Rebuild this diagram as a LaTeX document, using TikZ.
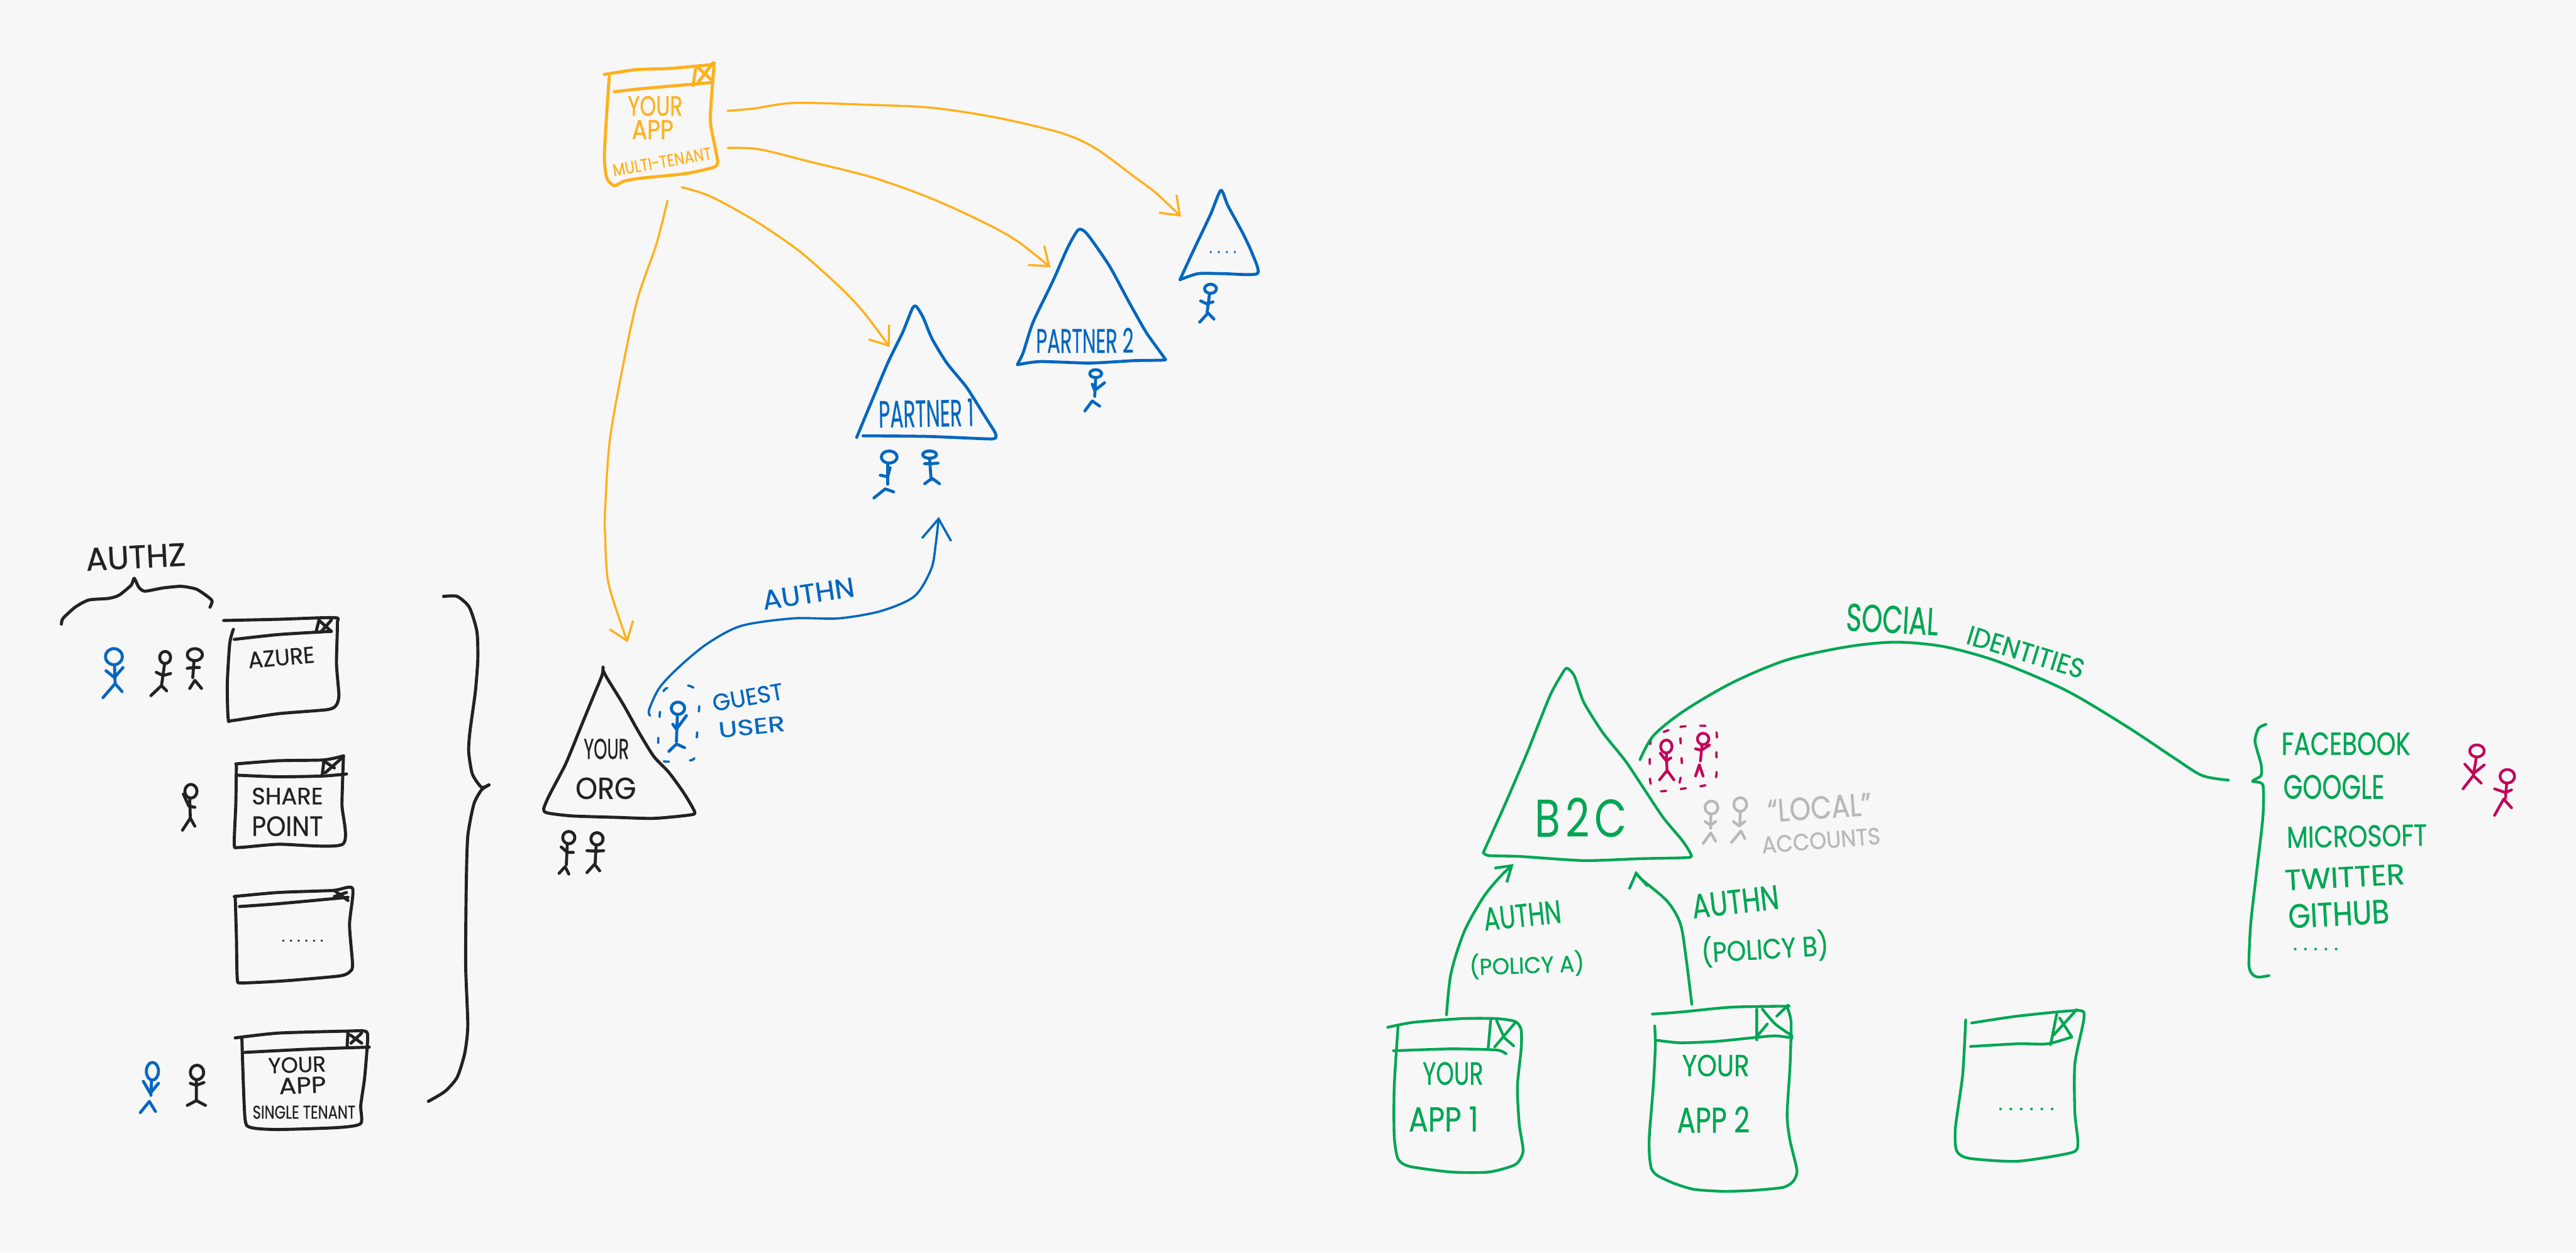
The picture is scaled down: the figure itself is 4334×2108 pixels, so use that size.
\documentclass[tikz,border=0pt]{standalone}
\usepackage{graphicx}
\usepackage{fontspec}
\setmainfont{Poppins}[FakeBold=0.7]
\newfontfamily\plainfont{Poppins}
\usetikzlibrary{arrows.meta}
\definecolor{bgc}{RGB}{247,247,247}
\definecolor{ink}{RGB}{34,34,34}
\definecolor{bluec}{RGB}{2,103,192}
\definecolor{orangec}{RGB}{255,176,28}
\definecolor{greenc}{RGB}{0,166,84}
\definecolor{magc}{RGB}{194,0,88}
\definecolor{grayc}{RGB}{184,184,184}
\newlength\pxu \setlength\pxu{0.01cm}
\newcommand\tx[3]{\resizebox{#1\pxu}{#2\pxu}{#3}}
\newcommand\dw[2]{\resizebox{#1\pxu}{!}{#2}}
\newcommand\dd{.\kern.3em}
\newcommand\hand[2]{\draw[#1] plot[smooth,tension=.4] coordinates {#2};}
\tikzset{
  pen/.style={line cap=round,line join=round,line width=#1*0.01cm},
  kfig/.style={pen=5,draw=ink},
  bfig/.style={pen=5,draw=bluec},
  mfig/.style={pen=4.6,draw=magc},
  gfig/.style={pen=4.6,draw=grayc},
  kbox/.style={pen=5.2,draw=ink},
  bbox/.style={pen=5,draw=bluec},
  obox/.style={pen=5.2,draw=orangec},
  gbox/.style={pen=4.6,draw=greenc},
  oconn/.style={pen=3.6,draw=orangec,-{Straight Barb[length=8pt,width=12pt]}},
  lab/.style={inner sep=0pt,text=#1},
}
\begin{document}
\begin{tikzpicture}[x=0.01cm,y=-0.01cm]
\useasboundingbox (0,0) rectangle (4334,2108);
\fill[bgc] (0,0) rectangle (4334,2108);

%% left column: zoom 1 frame
\begin{scope}[shift={(60,880)},xscale=1/1.96,yscale=1/1.479]
\hand{kbox}{(85,252) (90,238) (130,210) (175,192) (240,188) (275,180) (315,155) (325,138) (340,160) (360,170) (420,162) (480,158) (530,165) (570,185) (582,195) (575,210)}
\node[lab=ink,rotate=3] (authz) at (330,85) {\tx{168}{38}{AUTHZ}};
% Azure
\hand{kbox}{(620,243) (800,240) (985,236) (995,250) (992,350) (1000,430) (990,455) (960,465) (800,475) (650,492) (635,488) (632,400) (640,300) (652,265)}
\hand{kbox}{(655,290) (800,278) (975,270)}
\draw[kbox] (925,270)--(935,240) (938,245)--(975,270) (975,242)--(940,272);
\node[lab=ink,rotate=5] (azure) at (810,335) {\tx{112}{27}{AZURE}};
\draw[bfig] (258,333) ellipse (28 and 20) (260,355)--(262,400) (232,368)--(260,385)--(288,360) (222,435)--(262,400)--(285,420);
\draw[kfig] (427,335) ellipse (18 and 15) (425,352)--(415,405) (398,372)--(420,380)--(445,375) (380,430)--(415,405)--(432,418);
\draw[kfig] (525,328) ellipse (25 and 15) (522,345)--(518,385) (500,362)--(520,360)--(540,360) (508,412)--(525,392)--(547,412);
% SharePoint
\hand{kbox}{(660,600) (800,592) (950,590) (1015,580)}
\hand{kbox}{(1015,580) (1010,700) (1012,800) (800,800) (670,808) (655,800) (660,700) (662,600)}
\hand{kbox}{(665,628) (800,632) (950,630) (1025,625)}
\draw[kbox] (945,628)--(950,595) (955,622)--(1010,585) (955,595)--(985,610);
\node[lab=ink] (share) at (830,680) {\tx{120}{28}{SHARE}};
\node[lab=ink] (point) at (830,755) {\tx{120}{33}{POINT}};
\draw[kfig] (512,668) ellipse (20 and 17) (508,687)--(510,735) (487,675)--(505,705)--(525,708) (484,765)--(510,735)--(525,755);
% third
\hand{kbox}{(655,930) (800,920) (980,915) (1045,910) (1035,1000) (1045,1100) (1035,1118) (1000,1128) (820,1140) (680,1145) (665,1135) (662,1030) (658,930)}
\hand{kbox}{(672,955) (800,948) (1030,932)}
\draw[kbox] (985,915)--(1030,940) (985,930)--(1025,920);
\node[lab=ink] (dots1) at (880,1040) {\dw{70}{\dd\dd\dd\dd\dd.}};
% your app single
\hand{kbox}{(658,1282) (800,1270) (1030,1265) (1085,1265) (1095,1280) (1085,1380) (1072,1450) (1072,1495) (1000,1505) (800,1510) (710,1505) (690,1480) (680,1282)}
\hand{kbox}{(690,1318) (900,1310) (1100,1305)}
\draw[kbox] (1027,1305)--(1030,1265) (1038,1275)--(1075,1295) (1075,1270)--(1040,1295);
\node[lab=ink,rotate=2] (yourS) at (862,1349) {\tx{97}{26}{YOUR}};
\node[lab=ink,rotate=2] (appS) at (880,1400) {\tx{79}{27}{APP}};
\node[lab=ink] (singleT) at (885,1467) {\tx{173}{22}{SINGLE TENANT}};
\draw[bfig] (385,1365) ellipse (20 and 22) (382,1388)--(380,1425) (355,1390)--(378,1420)--(405,1395) (345,1468)--(375,1440)--(395,1465);
\draw[kfig] (532,1368) ellipse (22 and 18) (530,1388)--(530,1438) (510,1395)--(530,1400)--(555,1393) (500,1450)--(530,1438)--(560,1450);
% big brace
\hand{kbox}{(1345,183) (1390,183) (1430,210) (1455,270) (1458,340) (1450,420) (1432,520) (1428,570) (1440,625) (1470,658) (1495,652)}
\hand{kbox}{(1495,652) (1470,665) (1445,700) (1425,780) (1420,900) (1418,1100) (1425,1250) (1415,1320) (1390,1380) (1350,1415) (1295,1440)}
\end{scope}

%% top: zoom 2 frame
\begin{scope}[shift={(880,60)},xscale=1/1.206,yscale=1/1.96]
\hand{obox}{(165,128) (230,112) (300,108) (385,95)}
\hand{obox}{(175,135) (170,250) (165,400) (170,470) (185,495) (205,480) (240,470) (330,455) (385,435) (395,420) (390,370) (380,280) (385,150) (388,90)}
\hand{obox}{(185,185) (240,175) (380,155)}
\draw[obox] (345,165)--(350,110) (355,155)--(385,90) (355,105)--(385,150);
\node[lab=orangec] (yourM) at (268,232) {\tx{92}{33}{YOUR}};
\node[lab=orangec] (appM) at (263,310) {\tx{70}{32}{APP}};
\node[lab=orangec,rotate=10] (multiT) at (282,416) {\tx{168}{20}{MULTI-TENANT}};
\coordinate (c1s) at (415,248); \coordinate (c1e) at (1335,597);
\coordinate (c2s) at (415,370); \coordinate (c2e) at (1070,764);
\coordinate (c3s) at (322,500); \coordinate (c3e) at (744,1027);
\draw[oconn] plot[smooth,tension=.5] coordinates {(c1s) (470,240) (550,222) (700,228) (830,238) (960,270) (1090,320) (1160,370) (1240,465) (1285,520) (c1e)};
\draw[oconn] plot[smooth,tension=.5] coordinates {(c2s) (480,375) (580,415) (710,468) (830,538) (940,620) (1005,680) (c2e)};
\draw[oconn] plot[smooth,tension=.5] coordinates {(c3s) (380,530) (470,610) (560,710) (640,825) (690,910) (c3e)};
% partner 1
\hand{bbox}{(677,1325) (700,1235) (740,1080) (770,980) (790,900) (798,893) (812,930) (830,1000) (860,1080) (900,1160) (935,1250) (958,1310) (958,1328) (940,1330) (820,1322) (690,1320)}
\node[lab=bluec,rotate=1] (part1) at (818,1245) {\tx{160}{46}{PARTNER 1}};
\draw[bfig] (743,1390) ellipse (16 and 20) (740,1412)--(740,1480) (725,1450)--(740,1455)--(745,1425) (712,1525)--(735,1495)--(752,1505);
\draw[bfig] (825,1382) ellipse (14 and 12) (825,1395)--(828,1465) (815,1412)--(828,1412)--(842,1410) (815,1478)--(830,1460)--(845,1478);
% partner 2
\hand{bbox}{(1003,1085) (1015,1045) (1035,945) (1075,810) (1105,700) (1127,640) (1145,655) (1190,760) (1230,880) (1265,980) (1300,1060) (1300,1070) (1240,1072) (1150,1080) (1050,1075) (1005,1085)}
\node[lab=bluec] (part2) at (1140,1005) {\tx{164}{42}{PARTNER 2}};
\draw[bfig] (1162,1115) ellipse (12 and 13) (1162,1130)--(1160,1190) (1155,1150)--(1160,1170)--(1180,1145) (1140,1238)--(1155,1205)--(1170,1222);
% third triangle
\hand{bbox}{(1333,805) (1360,710) (1395,590) (1416,510) (1430,560) (1460,650) (1480,720) (1490,785) (1420,785) (1370,785) (1333,805)}
\node[lab=bluec] (dots2) at (1420,714) {\dw{46}{\dd\dd\dd.}};
\draw[bfig] (1395,835) ellipse (12 and 15) (1393,852)--(1388,915) (1375,875)--(1388,885)--(1400,878) (1373,945)--(1390,915)--(1402,935);
\end{scope}

%% your org: zoom 3 frame
\begin{scope}[shift={(860,850)},xscale=1/1.96,yscale=1/2.412]
\hand{kbox}{(303,658) (300,690) (270,780) (230,900) (180,1050) (125,1180) (107,1235) (120,1250) (200,1262) (350,1268) (470,1272) (590,1258) (605,1245) (570,1170) (520,1085) (470,1020) (420,920) (370,810) (315,700) (303,670)}
\node[lab=ink] (yourO) at (314,990) {\tx{76}{34}{YOUR}};
\node[lab=ink] (orgO) at (312,1150) {\tx{102}{36}{ORG}};
\draw[kfig] (190,1350) ellipse (20 and 25) (185,1378)--(182,1460) (165,1388)--(185,1410)--(205,1410) (158,1495)--(178,1468)--(190,1498);
\draw[kfig] (283,1355) ellipse (20 and 25) (280,1385)--(277,1455) (250,1403)--(280,1405)--(305,1403) (250,1492)--(275,1458)--(292,1485);
\draw[bfig] (550,825) ellipse (22 and 25) (548,855)--(545,960) (533,890)--(545,910)--(578,855) (520,1000)--(545,970)--(572,985);
\draw[pen=3.8,draw=bluec,dash pattern=on 2.5pt off 10pt] plot[smooth cycle,tension=.4] coordinates {(510,745) (585,733) (620,770) (615,900) (607,1000) (597,1035) (500,1040) (485,1000) (487,900) (495,790)};
\node[lab=bluec,rotate=8.5] (authnO) at (980,360) {\tx{156}{32}{AUTHN}};
\node[lab=bluec,rotate=10] (guest) at (780,780) {\tx{120}{28}{GUEST}};
\node[lab=bluec,rotate=6] (userG) at (793,900) {\tx{112}{26}{USER}};
\coordinate (orgGuestStart) at (458,855);
\coordinate (authnEnd) at (1410,48);
\draw[pen=3.8,draw=bluec,-{Straight Barb[length=10pt,width=14pt]}] plot[smooth,tension=.5] coordinates {(orgGuestStart) (455,830) (490,740) (560,650) (650,560) (760,490) (930,460) (1080,460) (1220,430) (1330,370) (1385,260) (1400,160) (authnEnd)};
\end{scope}

% orange connector from app to your org (full-size coordinates)
\coordinate (c4s) at (1123,338);
\coordinate (c4e) at (1056,1081);
\draw[oconn] plot[smooth,tension=.5] coordinates {(c4s) (1104,412) (1071,509) (1042,647) (1025,749) (1018,860) (1018,900) (1024,983) (c4e)};

%% B2C: zoom 4 frame
\begin{scope}[shift={(2250,1000)},scale=1/1.568]
\hand{gbox}{(385,682) (440,560) (500,420) (560,270) (590,215) (605,195) (625,215) (650,285) (700,365) (760,440) (810,515) (860,590) (910,650) (932,685) (925,695) (800,698) (650,703) (480,692) (400,690) (385,682)}
\node[lab=greenc] (b2c) at (643,590) {\tx{155}{66}{{\plainfont B\kern.12em2\kern.12emC}}};
% app 1
\hand{gbox}{(133,1143) (200,1130) (330,1120) (420,1120) (470,1128) (485,1150) (485,1200) (475,1300) (480,1400) (490,1470) (470,1505) (400,1525) (300,1525) (190,1510) (160,1490) (150,1430) (150,1300) (160,1143)}
\hand{gbox}{(148,1205) (300,1200) (420,1203) (445,1213)}
\draw[gbox] (398,1197)--(405,1120) (420,1125)--(440,1170)--(465,1192) (470,1130)--(415,1195);
\node[lab=greenc] (your1) at (305,1265) {\tx{102}{38}{YOUR}};
\node[lab=greenc] (app1) at (280,1385) {\tx{117}{42}{APP 1}};
\node[lab=greenc,rotate=6] (authnA) at (488,848) {\tx{131}{38}{AUTHN}};
\node[lab=greenc,rotate=2] (policyA) at (500,978) {\tx{193}{36}{(POLICY A)}};
\node[lab=greenc,rotate=6.5] (authnB) at (1050,812) {\tx{147}{40}{AUTHN}};
\node[lab=greenc,rotate=3.5] (policyB) at (1128,935) {\tx{214}{44}{(POLICY B)}};
\coordinate (a1up) at (288,1110);
\coordinate (tipA) at (465,712);
\coordinate (b2up) at (935,1082);
\coordinate (tipB) at (787,730);
\draw[gbox,-{Straight Barb[length=7pt,width=9pt]}] plot[smooth,tension=.5] coordinates {(a1up) (300,1000) (335,890) (385,800) (430,745) (tipA)};
\draw[gbox,-{Straight Barb[length=7pt,width=9pt]}] plot[smooth,tension=.5] coordinates {(b2up) (920,960) (905,870) (870,810) (800,750) (tipB)};
% magenta & gray people
\draw[pen=3.8,draw=magc,dash pattern=on 2.5pt off 7pt] plot[smooth cycle,tension=.4] coordinates {(835,375) (905,350) (995,352) (1000,420) (995,495) (920,512) (840,520) (825,490) (825,400)};
\draw[pen=3.8,draw=magc,dash pattern=on 2.5pt off 7pt] (905,380)--(910,465)--(900,510);
\draw[mfig] (868,402) ellipse (15 and 17) (868,420)--(870,470) (852,420)--(868,440)--(880,432) (850,490)--(870,465)--(888,490);
\draw[mfig] (965,382) ellipse (15 and 15) (962,398)--(958,440) (945,408)--(960,412)--(982,398) (945,480)--(955,450)--(965,480);
\draw[gfig] (987,563) ellipse (17 and 17) (985,580)--(985,618) (970,600)--(985,610)--(998,600) (965,658)--(985,630)--(998,652);
\draw[gfig] (1063,555) ellipse (17 and 18) (1063,575)--(1062,610) (1045,600)--(1060,612)--(1075,600) (1040,655)--(1065,625)--(1075,645);
\node[lab=grayc,rotate=4] (localA) at (1272,563) {\tx{175}{38}{“LOCAL”}};
\node[lab=grayc,rotate=4.6] (accts) at (1276,650) {\tx{200}{28}{ACCOUNTS}};
\end{scope}

%% App 2: zoom 6 frame
\begin{scope}[shift={(2700,1660)},scale=1/3]
\hand{gbox}{(240,140) (380,130) (640,105) (930,100)}
\hand{gbox}{(920,105) (940,180) (935,400) (920,650) (935,780) (970,930) (950,985) (900,1015) (750,1030) (600,1035) (450,1025) (350,995) (265,955) (235,920) (225,850) (225,750) (245,500) (255,300) (252,200)}
\hand{gbox}{(262,272) (380,285) (560,278) (760,258) (860,250) (945,260)}
\draw[gbox] (767,115)--(767,270) (925,95)--(868,150) (820,190)--(770,250);
\hand{gbox}{(795,115) (860,190) (945,250)}
\node[lab=greenc] (your2) at (560,400) {\tx{113}{36}{YOUR}};
\node[lab=greenc] (app2) at (548,672) {\tx{122}{44}{APP 2}};
\end{scope}

%% social: zoom 5 frame
\begin{scope}[shift={(2700,980)},xscale=1/.98,yscale=1/1.568]
\coordinate (socS) at (58,468);
\coordinate (socE) at (1028,522);
\draw[gbox] plot[smooth,tension=.5] coordinates {(socS) (80,405) (130,340) (210,265) (300,205) (400,170) (480,158) (560,170) (650,210) (760,285) (860,380) (940,465) (985,510) (socE)};
\node[lab=greenc,rotate=-3] (social) at (474,98) {\tx{155}{46}{SOCIAL}};
\node[lab=greenc,rotate=-17] (ident) at (694,184) {\tx{204}{32}{IDENTITIES}};
\hand{gbox}{(1090,375) (1078,385) (1072,420) (1082,480) (1082,510) (1068,525) (1085,535) (1085,620) (1075,760) (1065,900) (1062,1010) (1068,1035) (1078,1042) (1095,1038)}
\node[lab=greenc] (fb) at (1222,426) {\tx{217}{38}{FACEBOOK}};
\node[lab=greenc] (goog) at (1202,540) {\tx{170}{40}{GOOGLE}};
\node[lab=greenc,rotate=1] (ms) at (1240,670) {\tx{236}{36}{MICROSOFT}};
\node[lab=greenc,rotate=3] (tw) at (1220,778) {\tx{202}{34}{TWITTER}};
\node[lab=greenc,rotate=3] (gh) at (1210,875) {\tx{170}{40}{GITHUB}};
\node[lab=greenc] (dots3) at (1172,968) {\dw{76}{\dd\dd\dd\dd.}};
\draw[mfig] (1438,445) ellipse (12 and 16) (1437,462)--(1432,510) (1418,480)--(1432,505)--(1450,482) (1415,545)--(1432,510)--(1445,530);
\draw[mfig] (1488,512) ellipse (12 and 18) (1487,530)--(1485,570) (1467,545)--(1485,555)--(1495,548) (1467,615)--(1482,572)--(1495,595);
% app 3
\hand{gbox}{(605,1163) (680,1145) (780,1130) (790,1150) (775,1270) (775,1400) (780,1480) (770,1505) (680,1528) (600,1520) (580,1500) (578,1440) (590,1300) (595,1155)}
\hand{gbox}{(603,1225) (680,1218) (730,1218) (770,1200)}
\draw[gbox] (735,1220)--(745,1140) (750,1150)--(770,1200) (778,1128)--(740,1195);
\node[lab=greenc] (dots4) at (695,1390) {\dw{94}{\dd\dd\dd\dd\dd.}};
\end{scope}
\end{tikzpicture}
\end{document}
